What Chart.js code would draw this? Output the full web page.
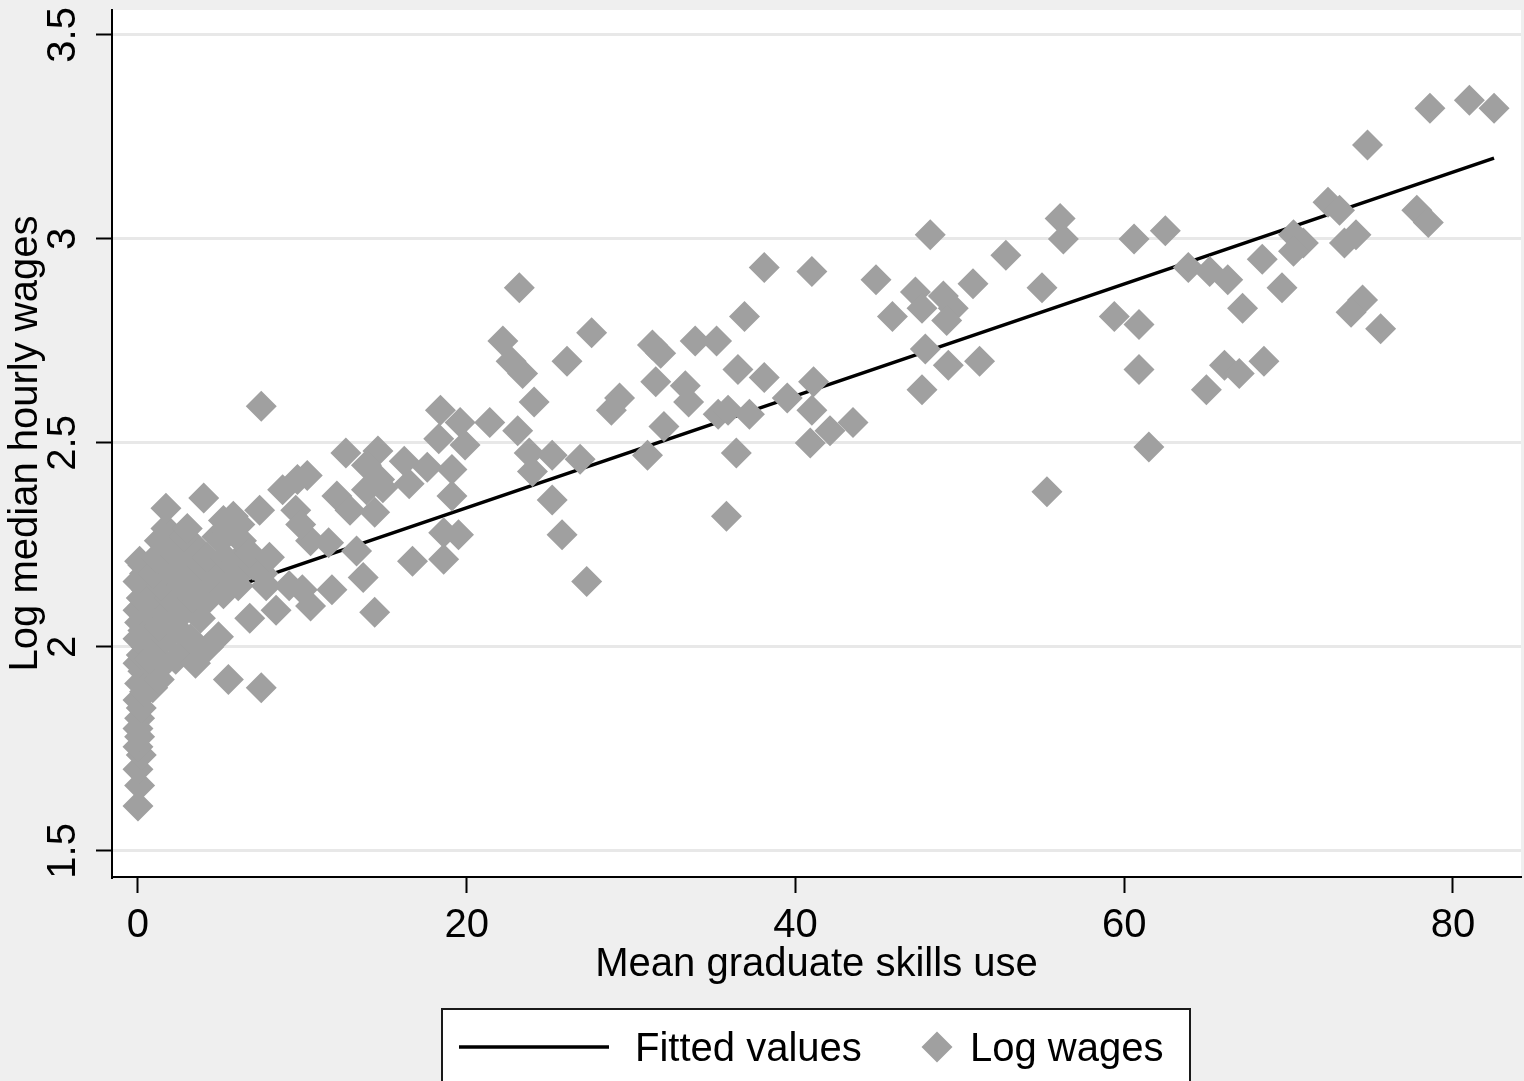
<!DOCTYPE html>
<html>
<head>
<meta charset="utf-8">
<script src="https://cdn.jsdelivr.net/npm/chart.js@4.4.0/dist/chart.umd.min.js"></script>
<style>
  html, body { margin: 0; padding: 0; background: #efefef; overflow: hidden; }
  canvas { display: block; }
</style>
</head>
<body>
<canvas id="chart" width="1524" height="1081"></canvas>
<script>
// Axis tick values
const xTicks = [0, 20, 40, 60, 80];
const yTicks = [1.5, 2, 2.5, 3, 3.5];

// Series labels
const fitLabel = 'Fitted values';
const obsLabel = 'Log wages';

// Mean graduate skills use (x) for each occupation
const skillsUse = [
  // 60+
  78.6, 81.0, 82.5, 74.8, 72.4, 73.1, 77.8, 78.5, 70.3, 70.9, 70.3, 74.1, 73.4, 68.4, 63.9, 65.2,
  66.3, 69.6, 67.2, 74.5, 73.8, 75.6, 68.5, 66.1, 67.0, 65.0, 61.5, 60.9, 60.9, 59.4, 60.6, 62.5,
  // 40-60
  55.3, 55.0, 56.1, 56.3, 52.8, 48.2, 44.9, 50.8, 47.3, 47.7, 45.9, 49.0, 49.6, 49.2, 47.9, 49.3,
  51.2, 47.7, 43.5, 42.1, 41.0, 41.1, 41.0, 40.9,
  // 20-40
  23.2, 38.1, 36.9, 22.2, 27.6, 22.7, 23.4, 26.1, 31.3, 31.8, 33.9, 35.2, 36.5, 38.1, 31.5, 33.3,
  33.5, 24.1, 29.3, 28.8, 21.4, 23.1, 32.0, 35.3, 35.9, 37.2, 39.5, 23.8, 25.2, 26.9, 24.0, 31.0,
  36.4, 25.2, 25.8, 27.3, 35.8,
  // 8-20
  18.4, 19.6, 12.65, 14.6, 18.3, 19.9, 10.3, 13.9, 14.7, 16.2, 17.6, 19.1, 12.1, 12.9, 13.9, 14.9,
  14.4, 16.5, 19.1, 10.5, 11.6, 13.3, 13.7, 11.8, 10.5, 14.4, 16.7, 18.6, 19.5, 18.6, 9.6, 8.8,
  9.7, 9.9, 9.2, 10.0,
  // 0-1
  0.0, 0.1, 0.0, 0.2, 0.0, 0.1, 0.0, 0.1, 0.2, 0.0, 0.4, 0.1, 0.3, 0.0, 0.2, 0.5,
  0.0, 0.3, 0.1, 0.6, 0.0, 0.3, 0.2, 0.5, 0.0, 0.4, 0.1, 0.3,
  // 0.5-2
  0.9, 1.3, 1.0, 0.7, 1.6, 1.1, 0.9, 1.7, 1.3, 0.8, 1.8, 1.2, 1.0, 1.9, 1.4, 0.9,
  1.7, 1.1, 1.9, 1.3, 1.7, 1.7,
  // 2-5
  2.3, 2.8, 3.5, 3.2, 2.5, 2.1, 3.8, 2.9, 2.4, 3.3, 4.1, 2.7, 3.6, 2.2, 4.4, 3.0,
  3.9, 2.5, 4.7, 3.4, 4.2, 2.8, 4.8, 3.0, 4.0, 4.9, 4.3,
  // 5-8
  5.2, 5.6, 6.1, 5.3, 6.0, 6.5, 5.8, 6.3, 7.0, 5.5, 6.2, 5.2, 6.8, 7.4, 7.6, 6.8,
  5.5, 7.5, 8.0, 8.4, 7.8, 7.5
];

// Log median hourly wages (y), same order as skillsUse
const logWages = [
  // 60+
  3.32, 3.34, 3.32, 3.23, 3.09, 3.07, 3.07, 3.04, 3.01, 2.99, 2.97, 3.01, 2.99, 2.95, 2.93, 2.92,
  2.90, 2.88, 2.83, 2.85, 2.82, 2.78, 2.70, 2.69, 2.67, 2.63, 2.49, 2.68, 2.79, 2.81, 3.00, 3.02,
  // 40-60
  2.38, 2.88, 3.05, 3.00, 2.96, 3.01, 2.90, 2.89, 2.87, 2.83, 2.81, 2.86, 2.83, 2.80, 2.73, 2.69,
  2.70, 2.63, 2.55, 2.53, 2.92, 2.65, 2.58, 2.50,
  // 20-40
  2.88, 2.93, 2.81, 2.75, 2.77, 2.70, 2.67, 2.70, 2.74, 2.72, 2.75, 2.75, 2.68, 2.66, 2.65, 2.64,
  2.60, 2.60, 2.61, 2.58, 2.55, 2.53, 2.54, 2.57, 2.58, 2.57, 2.61, 2.475, 2.47, 2.46, 2.43, 2.47,
  2.475, 2.36, 2.275, 2.16, 2.32,
  // 8-20
  2.58, 2.55, 2.475, 2.48, 2.51, 2.495, 2.42, 2.445, 2.41, 2.455, 2.44, 2.435, 2.37, 2.335, 2.385, 2.39,
  2.33, 2.40, 2.37, 2.26, 2.255, 2.235, 2.17, 2.14, 2.10, 2.085, 2.21, 2.215, 2.275, 2.28, 2.335, 2.385,
  2.41, 2.30, 2.15, 2.14,
  // 0-1
  1.61, 1.66, 1.70, 1.735, 1.755, 1.78, 1.80, 1.825, 1.85, 1.87, 1.89, 1.91, 1.94, 1.96, 1.98, 2.00,
  2.02, 2.04, 2.06, 2.07, 2.09, 2.10, 2.12, 2.14, 2.16, 2.18, 2.21, 2.20,
  // 0.5-2
  1.90, 1.92, 1.95, 1.97, 1.96, 2.00, 2.03, 2.02, 2.05, 2.08, 2.07, 2.10, 2.13, 2.12, 2.15, 2.18,
  2.19, 2.22, 2.24, 2.26, 2.29, 2.34,
  // 2-5
  1.97, 1.99, 1.96, 2.02, 2.04, 2.06, 2.07, 2.09, 2.11, 2.12, 2.11, 2.15, 2.16, 2.18, 2.15, 2.21,
  2.20, 2.23, 2.19, 2.25, 2.22, 2.27, 2.27, 2.29, 2.365, 2.025, 2.00,
  // 5-8
  2.13, 2.17, 2.15, 2.22, 2.21, 2.19, 2.32, 2.26, 2.20, 2.28, 2.30, 2.31, 2.23, 2.335, 2.18, 2.07,
  1.92, 1.90, 2.22, 2.09, 2.15, 2.59
];

// Fitted regression line, end points
const fitX = [0, 82.5];
const fitY = [2.067, 3.198];

const FONT = '"Liberation Sans", Arial, Helvetica, sans-serif';
const MARKER_GREY = '#a0a0a0';

// Page background and white plot region
const panels = {
  id: 'panels',
  beforeDraw(chart) {
    const { ctx, chartArea: a, width, height } = chart;
    ctx.save();
    ctx.fillStyle = '#efefef';
    ctx.fillRect(0, 0, width, height);
    ctx.fillStyle = '#ffffff';
    ctx.fillRect(a.left, a.top, a.right - a.left, a.bottom - a.top);
    ctx.restore();
  }
};

// Boxed legend under the x-axis title
const boxedLegend = {
  id: 'boxedLegend',
  afterDraw(chart) {
    const ctx = chart.ctx;
    const [fit, obs] = chart.data.datasets;
    const cy = 1047;
    ctx.save();
    ctx.fillStyle = '#ffffff';
    ctx.fillRect(442, 1009, 748, 100);
    ctx.strokeStyle = '#1a1a1a';
    ctx.lineWidth = 2;
    ctx.strokeRect(442, 1009, 748, 100);

    ctx.strokeStyle = fit.borderColor;
    ctx.lineWidth = fit.borderWidth;
    ctx.beginPath();
    ctx.moveTo(459, cy);
    ctx.lineTo(609, cy);
    ctx.stroke();

    ctx.fillStyle = '#000';
    ctx.font = '40px ' + FONT;
    ctx.textBaseline = 'alphabetic';
    ctx.fillText(fit.label, 635, cy + 14);

    const r = obs.pointRadius;
    ctx.fillStyle = obs.backgroundColor;
    ctx.beginPath();
    ctx.moveTo(937 - r, cy);
    ctx.lineTo(937, cy - r);
    ctx.lineTo(937 + r, cy);
    ctx.lineTo(937, cy + r);
    ctx.closePath();
    ctx.fill();

    ctx.fillStyle = '#000';
    ctx.fillText(obs.label, 970, cy + 14);
    ctx.restore();
  }
};

new Chart(document.getElementById('chart'), {
  type: 'scatter',
  data: {
    datasets: [
      {
        label: fitLabel,
        data: fitX.map((x, i) => ({ x, y: fitY[i] })),
        showLine: true,
        borderColor: '#000000',
        borderWidth: 3.5,
        pointRadius: 0,
        fill: false,
        order: 1
      },
      {
        label: obsLabel,
        data: skillsUse.map((x, i) => ({ x, y: logWages[i] })),
        pointStyle: 'rectRot',
        pointRadius: 15.5,
        pointHoverRadius: 15.5,
        backgroundColor: MARKER_GREY,
        borderWidth: 0,
        order: 0
      }
    ]
  },
  options: {
    responsive: false,
    devicePixelRatio: 1,
    animation: false,
    events: [],
    layout: { autoPadding: false, padding: { top: 10, right: 3, bottom: 74, left: 0 } },
    plugins: {
      legend: { display: false },
      tooltip: { enabled: false }
    },
    scales: {
      x: {
        type: 'linear',
        min: -1.58,
        max: 84.14,
        afterBuildTicks(scale) { scale.ticks = xTicks.map(v => ({ value: v })); },
        afterFit(scale) {
          scale.height = 130;
          scale.paddingLeft = 0; scale.paddingRight = 0;
        },
        ticks: {
          color: '#000',
          font: { family: FONT, size: 40 },
          padding: 9,
          maxRotation: 0,
          autoSkip: false,
          callback: v => String(v)
        },
        grid: {
          drawOnChartArea: false,
          drawTicks: true,
          tickLength: 16,
          tickWidth: 2,
          tickColor: '#000'
        },
        border: { display: true, color: '#000', width: 2 },
        title: {
          display: true,
          text: 'Mean graduate skills use',
          color: '#000',
          font: { family: FONT, size: 40 },
          padding: { top: 0, bottom: 18 }
        }
      },
      y: {
        type: 'linear',
        min: 1.436,
        max: 3.561,
        afterBuildTicks(scale) { scale.ticks = yTicks.map(v => ({ value: v })); },
        afterFit(scale) {
          scale.width = 112;
          scale.paddingTop = 0; scale.paddingBottom = 0;
        },
        ticks: {
          color: '#000',
          font: { family: FONT, size: 40 },
          padding: 4,
          minRotation: 90,
          maxRotation: 90,
          crossAlign: 'center',
          autoSkip: false,
          callback: v => String(v)
        },
        grid: {
          color: '#e8e8e8',
          lineWidth: 3,
          drawTicks: true,
          tickLength: 16,
          tickWidth: 2,
          tickColor: '#000'
        },
        border: { display: true, color: '#000', width: 2 },
        title: {
          display: true,
          text: 'Log median hourly wages',
          color: '#000',
          font: { family: FONT, size: 40 },
          padding: { top: 2, bottom: 0 }
        }
      }
    }
  },
  plugins: [panels, boxedLegend]
});
</script>
</body>
</html>
